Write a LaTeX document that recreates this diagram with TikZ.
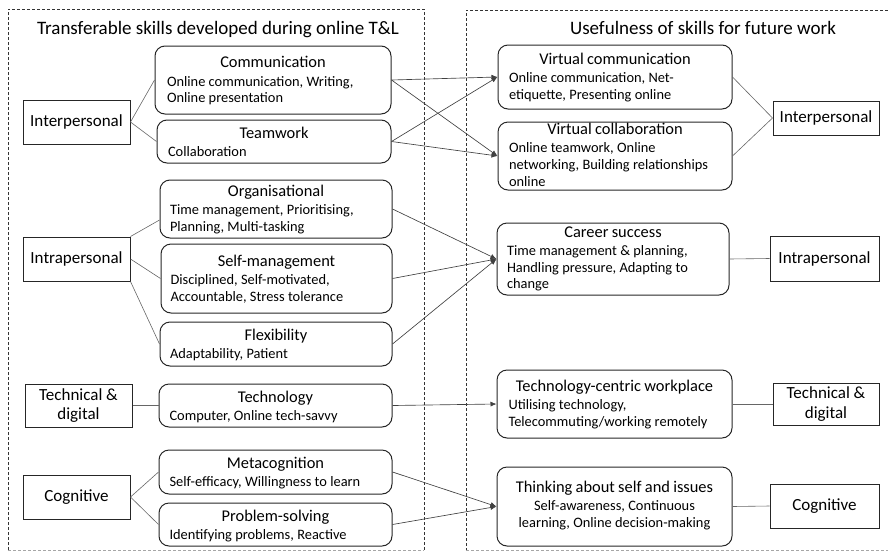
\documentclass[tikz,border=0pt]{standalone}
\usepackage{fontspec}
\setmainfont{Carlito}
\usetikzlibrary{arrows.meta,positioning}

\newcommand\skillhead{\fontsize{16.4}{19}\selectfont}
\newcommand\skillbody{\fontsize{14.4}{16.7}\selectfont}
% heading centred, then the listed skills line by line
\newcommand\skilltext[3][l]{{\skillhead\centering #2\par}\skillbody\vspace{1.6pt}%
\if c#1\centering\fi\begin{tabular}[t]{@{}#1@{}}#3\end{tabular}\par}

\begin{document}
\begin{tikzpicture}[x=1pt,y=-1pt]
\tikzstyle{cat}=[draw=black!85,line width=1pt,minimum width=107pt,
minimum height=44pt,inner sep=0pt,align=center,font=\fontsize{17}{19.5}\selectfont]
\tikzstyle{skill}=[draw=black!85,line width=1pt,rounded corners=10pt,
minimum width=234pt,inner sep=0pt]
\tikzstyle{txt}=[text width=212pt,align=left,inner sep=0pt,anchor=base]
\tikzstyle{link}=[draw=black!60,line width=0.6pt]
\tikzstyle{feed}=[draw=black!75,line width=0.65pt,-{Latex[length=6pt,width=5pt]}]
\tikzstyle{frame}=[draw=black!80,line width=0.6pt,dash pattern=on 3pt off 2pt]

\useasboundingbox (0,0) rectangle (888,552);

% the two dashed panels
\draw[frame] (8,550) -- (8,9) -- (424,9) -- (424,550);
\draw[frame,draw=black!35] (8,550) -- (424,550);
\draw[frame] (888,10) -- (466,10) -- (466,550);
\draw[frame,draw=black!35] (466,550) -- (888,550);

\node[anchor=base,font=\fontsize{19}{21}\selectfont] (ltitle) at (218,34)
{Transferable skills developed during online T\&L};
\node[anchor=base,font=\fontsize{19}{21}\selectfont] (rtitle) at (703,34)
{Usefulness of skills for future work};

% skill groups, left panel
\node[cat] (lInter) at (76.5,122) {Interpersonal};
\node[cat] (lIntra) at (76.5,259) {Intrapersonal};
\node[cat,minimum height=43pt] (lTech) at (78.5,405.5) {Technical \&\\digital};
\node[cat] (lCog) at (76.5,497) {Cognitive};

% skills developed
\node[skill,minimum width=236pt,minimum height=68pt] (comm) at (273,80) {};
\node[skill,minimum height=43pt] (team) at (274,141.5) {};
\node[skill,minimum width=232pt,minimum height=58pt] (org) at (276,209) {};
\node[skill,minimum width=231pt,minimum height=69pt] (selfm) at (276.5,278.5) {};
\node[skill,minimum width=232pt,minimum height=44pt] (flex) at (276,344) {};
\node[skill,minimum width=233pt,minimum height=43pt] (tech) at (275.5,405.5) {};
\node[skill,minimum width=233pt,minimum height=44pt] (meta) at (275.5,472) {};
\node[skill,minimum width=233pt,minimum height=43pt] (prob) at (275.5,524.5) {};

\node[txt] (comm-t) at ([yshift=-22.3pt]comm.north)
{\skilltext{Communication}{Online communication, Writing,\\Online presentation}};
\node[txt] (team-t) at ([yshift=-18.5pt]team.north)
{\skilltext{Teamwork}{Collaboration}};
\node[txt] (org-t) at ([yshift=-17pt]org.north)
{\skilltext{Organisational}{Time management, Prioritising,\\Planning, Multi-tasking}};
\node[txt] (selfm-t) at ([yshift=-22.5pt]selfm.north)
{\skilltext{Self-management}{Disciplined, Self-motivated,\\Accountable, Stress tolerance}};
\node[txt] (flex-t) at ([yshift=-19pt]flex.north)
{\skilltext{Flexibility}{Adaptability, Patient}};
\node[txt] (tech-t) at ([yshift=-19pt]tech.north)
{\skilltext{Technology}{Computer, Online tech-savvy}};
\node[txt] (meta-t) at ([yshift=-19pt]meta.north)
{\skilltext{Metacognition}{Self-efficacy, Willingness to learn}};
\node[txt] (prob-t) at ([yshift=-19pt]prob.north)
{\skilltext{Problem-solving}{Identifying problems, Reactive}};

% usefulness for work, right panel
\node[skill,minimum height=64pt] (vcomm) at (615,77) {};
\node[skill,minimum height=68pt] (vcoll) at (615,156) {};
\node[skill,minimum width=232pt,minimum height=72pt] (career) at (613,259) {};
\node[skill,minimum width=235pt,minimum height=68pt] (techw) at (614.5,404) {};
\node[skill,minimum width=235pt,minimum height=79pt] (think) at (614.5,506.5) {};

\node[txt] (vcomm-t) at ([yshift=-20pt]vcomm.north)
{\skilltext{Virtual communication}{Online communication, Net-\\etiquette, Presenting online}};
\node[txt] (vcoll-t) at ([yshift=-13pt]vcoll.north)
{\skilltext{Virtual collaboration}{Online teamwork, Online\\networking, Building relationships\\online}};
\node[txt] (career-t) at ([yshift=-14.5pt]career.north)
{\skilltext{Career success}{Time management \& planning,\\Handling pressure, Adapting to\\change}};
\node[txt] (techw-t) at ([yshift=-21.5pt]techw.north)
{\skilltext{Technology-centric workplace}{Utilising technology,\\Telecommuting/working remotely}};
\node[txt] (think-t) at ([yshift=-26pt]think.north)
{\skilltext[c]{Thinking about self and issues}{Self-awareness, Continuous\\learning, Online decision-making}};

\node[cat,minimum width=106pt,minimum height=34pt] (rInter) at (826,118) {Interpersonal};
\node[cat,minimum width=109pt,minimum height=45pt] (rIntra) at (824.5,258.5) {Intrapersonal};
\node[cat,minimum width=106pt,minimum height=42pt] (rTech) at (826,404) {Technical \&\\digital};
\node[cat,minimum width=109pt] (rCog) at (824.5,506) {Cognitive};

% groups to skills
\draw[link] (lInter.east) -- (comm.west);
\draw[link] (lInter.east) -- (team.west);
\draw[link] (lIntra.north east) -- ([yshift=-11pt]org.west);
\draw[link] (lIntra.east) -- (selfm.west);
\draw[link] (lIntra.south east) -- (flex.west);
\draw[link] (lTech.east) -- (tech.west);
\draw[link] (lCog.east) -- (meta.west);
\draw[link] (lCog.east) -- (prob.west);

% skills feeding into work
\foreach \a/\b in {comm/vcomm,comm/vcoll,team/vcomm,team/vcoll,org/career,
selfm/career,flex/career,tech/techw,meta/think,prob/think}
\draw[feed] (\a.east) -- (\b.west);

\draw[link] (vcomm.east) -- (rInter.west);
\draw[link] (vcoll.east) -- (rInter.west);
\draw[link] (career.east) -- (rIntra.west);
\draw[link] (techw.east) -- (rTech.west);
\draw[link] (think.east) -- (rCog.west);
\end{tikzpicture}
\end{document}
